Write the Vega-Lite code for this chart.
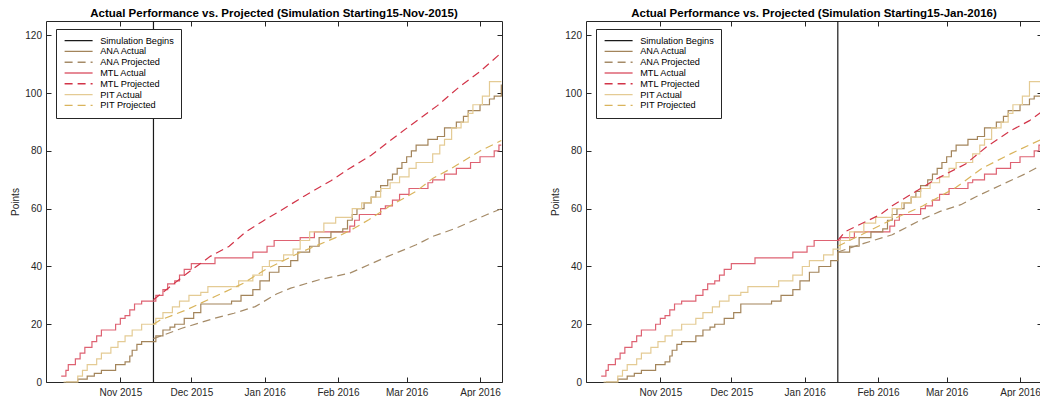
{
  "$schema": "https://vega.github.io/schema/vega-lite/v6.json",
  "background": "white",
  "padding": {"left": 10, "top": 7, "right": 0, "bottom": 0},
  "config": {
    "view": {"stroke": "#262626", "strokeWidth": 1},
    "font": "Liberation Sans",
    "axis": {"grid": false, "domain": false, "tickColor": "#262626", "tickSize": -5, "labelColor": "#262626", "labelFont": "Liberation Sans", "labelFontSize": 10, "titleFont": "Liberation Sans", "titleFontSize": 10, "titleFontWeight": "normal", "titleColor": "#262626"},
    "title": {"font": "Liberation Sans", "fontSize": 11.5, "fontWeight": "bold", "color": "#000000", "offset": 1.4, "anchor": "middle"}
  },
  "datasets": {
    "sim": [
      {"panel": "L", "series": "Simulation Begins", "date": "2015-11-15"},
      {"panel": "R", "series": "Simulation Begins", "date": "2016-01-15"}
    ],
    "actual": [
      {"series": "MTL Actual", "date": "2015-10-07", "value": 2},
      {"series": "MTL Actual", "date": "2015-10-09", "value": 4},
      {"series": "MTL Actual", "date": "2015-10-10", "value": 6},
      {"series": "MTL Actual", "date": "2015-10-13", "value": 8},
      {"series": "MTL Actual", "date": "2015-10-15", "value": 10},
      {"series": "MTL Actual", "date": "2015-10-17", "value": 12},
      {"series": "MTL Actual", "date": "2015-10-20", "value": 14},
      {"series": "MTL Actual", "date": "2015-10-22", "value": 16},
      {"series": "MTL Actual", "date": "2015-10-24", "value": 18},
      {"series": "MTL Actual", "date": "2015-10-30", "value": 20},
      {"series": "MTL Actual", "date": "2015-11-01", "value": 22},
      {"series": "MTL Actual", "date": "2015-11-03", "value": 23},
      {"series": "MTL Actual", "date": "2015-11-05", "value": 25},
      {"series": "MTL Actual", "date": "2015-11-07", "value": 27},
      {"series": "MTL Actual", "date": "2015-11-10", "value": 28},
      {"series": "MTL Actual", "date": "2015-11-16", "value": 30},
      {"series": "MTL Actual", "date": "2015-11-19", "value": 32},
      {"series": "MTL Actual", "date": "2015-11-21", "value": 34},
      {"series": "MTL Actual", "date": "2015-11-24", "value": 35},
      {"series": "MTL Actual", "date": "2015-11-26", "value": 37},
      {"series": "MTL Actual", "date": "2015-11-28", "value": 39},
      {"series": "MTL Actual", "date": "2015-12-01", "value": 41},
      {"series": "MTL Actual", "date": "2015-12-11", "value": 43},
      {"series": "MTL Actual", "date": "2015-12-27", "value": 45},
      {"series": "MTL Actual", "date": "2016-01-02", "value": 47},
      {"series": "MTL Actual", "date": "2016-01-05", "value": 49},
      {"series": "MTL Actual", "date": "2016-01-16", "value": 50},
      {"series": "MTL Actual", "date": "2016-01-22", "value": 52},
      {"series": "MTL Actual", "date": "2016-02-06", "value": 54},
      {"series": "MTL Actual", "date": "2016-02-08", "value": 56},
      {"series": "MTL Actual", "date": "2016-02-10", "value": 58},
      {"series": "MTL Actual", "date": "2016-02-19", "value": 60},
      {"series": "MTL Actual", "date": "2016-02-21", "value": 61},
      {"series": "MTL Actual", "date": "2016-02-24", "value": 63},
      {"series": "MTL Actual", "date": "2016-02-27", "value": 65},
      {"series": "MTL Actual", "date": "2016-03-02", "value": 67},
      {"series": "MTL Actual", "date": "2016-03-10", "value": 69},
      {"series": "MTL Actual", "date": "2016-03-12", "value": 70},
      {"series": "MTL Actual", "date": "2016-03-17", "value": 72},
      {"series": "MTL Actual", "date": "2016-03-22", "value": 74},
      {"series": "MTL Actual", "date": "2016-03-28", "value": 76},
      {"series": "MTL Actual", "date": "2016-04-01", "value": 78},
      {"series": "MTL Actual", "date": "2016-04-07", "value": 80},
      {"series": "MTL Actual", "date": "2016-04-09", "value": 82},
      {"series": "MTL Actual", "date": "2016-04-10", "value": 82},
      {"series": "ANA Actual", "date": "2015-10-09", "value": 0},
      {"series": "ANA Actual", "date": "2015-10-14", "value": 1},
      {"series": "ANA Actual", "date": "2015-10-18", "value": 2},
      {"series": "ANA Actual", "date": "2015-10-21", "value": 3},
      {"series": "ANA Actual", "date": "2015-10-24", "value": 4},
      {"series": "ANA Actual", "date": "2015-10-30", "value": 6},
      {"series": "ANA Actual", "date": "2015-11-03", "value": 7},
      {"series": "ANA Actual", "date": "2015-11-05", "value": 9},
      {"series": "ANA Actual", "date": "2015-11-06", "value": 11},
      {"series": "ANA Actual", "date": "2015-11-08", "value": 13},
      {"series": "ANA Actual", "date": "2015-11-10", "value": 14},
      {"series": "ANA Actual", "date": "2015-11-16", "value": 16},
      {"series": "ANA Actual", "date": "2015-11-19", "value": 18},
      {"series": "ANA Actual", "date": "2015-11-22", "value": 19},
      {"series": "ANA Actual", "date": "2015-11-24", "value": 20},
      {"series": "ANA Actual", "date": "2015-11-28", "value": 22},
      {"series": "ANA Actual", "date": "2015-12-02", "value": 24},
      {"series": "ANA Actual", "date": "2015-12-05", "value": 27},
      {"series": "ANA Actual", "date": "2015-12-18", "value": 28},
      {"series": "ANA Actual", "date": "2015-12-22", "value": 30},
      {"series": "ANA Actual", "date": "2015-12-27", "value": 32},
      {"series": "ANA Actual", "date": "2015-12-30", "value": 35},
      {"series": "ANA Actual", "date": "2016-01-03", "value": 38},
      {"series": "ANA Actual", "date": "2016-01-07", "value": 40},
      {"series": "ANA Actual", "date": "2016-01-12", "value": 42},
      {"series": "ANA Actual", "date": "2016-01-15", "value": 45},
      {"series": "ANA Actual", "date": "2016-01-20", "value": 47},
      {"series": "ANA Actual", "date": "2016-01-24", "value": 50},
      {"series": "ANA Actual", "date": "2016-01-29", "value": 52},
      {"series": "ANA Actual", "date": "2016-02-03", "value": 53},
      {"series": "ANA Actual", "date": "2016-02-05", "value": 56},
      {"series": "ANA Actual", "date": "2016-02-07", "value": 58},
      {"series": "ANA Actual", "date": "2016-02-09", "value": 60},
      {"series": "ANA Actual", "date": "2016-02-12", "value": 62},
      {"series": "ANA Actual", "date": "2016-02-15", "value": 64},
      {"series": "ANA Actual", "date": "2016-02-17", "value": 66},
      {"series": "ANA Actual", "date": "2016-02-19", "value": 68},
      {"series": "ANA Actual", "date": "2016-02-22", "value": 70},
      {"series": "ANA Actual", "date": "2016-02-24", "value": 72},
      {"series": "ANA Actual", "date": "2016-02-26", "value": 74},
      {"series": "ANA Actual", "date": "2016-02-28", "value": 76},
      {"series": "ANA Actual", "date": "2016-03-01", "value": 78},
      {"series": "ANA Actual", "date": "2016-03-03", "value": 80},
      {"series": "ANA Actual", "date": "2016-03-05", "value": 82},
      {"series": "ANA Actual", "date": "2016-03-10", "value": 84},
      {"series": "ANA Actual", "date": "2016-03-14", "value": 85},
      {"series": "ANA Actual", "date": "2016-03-17", "value": 88},
      {"series": "ANA Actual", "date": "2016-03-22", "value": 90},
      {"series": "ANA Actual", "date": "2016-03-25", "value": 92},
      {"series": "ANA Actual", "date": "2016-03-27", "value": 94},
      {"series": "ANA Actual", "date": "2016-04-01", "value": 96},
      {"series": "ANA Actual", "date": "2016-04-05", "value": 98},
      {"series": "ANA Actual", "date": "2016-04-07", "value": 99},
      {"series": "ANA Actual", "date": "2016-04-10", "value": 103},
      {"series": "PIT Actual", "date": "2015-10-08", "value": 0},
      {"series": "PIT Actual", "date": "2015-10-14", "value": 2},
      {"series": "PIT Actual", "date": "2015-10-16", "value": 4},
      {"series": "PIT Actual", "date": "2015-10-18", "value": 6},
      {"series": "PIT Actual", "date": "2015-10-22", "value": 8},
      {"series": "PIT Actual", "date": "2015-10-24", "value": 10},
      {"series": "PIT Actual", "date": "2015-10-28", "value": 12},
      {"series": "PIT Actual", "date": "2015-10-31", "value": 14},
      {"series": "PIT Actual", "date": "2015-11-03", "value": 16},
      {"series": "PIT Actual", "date": "2015-11-06", "value": 18},
      {"series": "PIT Actual", "date": "2015-11-10", "value": 20},
      {"series": "PIT Actual", "date": "2015-11-16", "value": 22},
      {"series": "PIT Actual", "date": "2015-11-19", "value": 24},
      {"series": "PIT Actual", "date": "2015-11-23", "value": 26},
      {"series": "PIT Actual", "date": "2015-11-26", "value": 28},
      {"series": "PIT Actual", "date": "2015-11-30", "value": 30},
      {"series": "PIT Actual", "date": "2015-12-05", "value": 31},
      {"series": "PIT Actual", "date": "2015-12-08", "value": 33},
      {"series": "PIT Actual", "date": "2015-12-21", "value": 35},
      {"series": "PIT Actual", "date": "2015-12-27", "value": 37},
      {"series": "PIT Actual", "date": "2015-12-31", "value": 40},
      {"series": "PIT Actual", "date": "2016-01-03", "value": 42},
      {"series": "PIT Actual", "date": "2016-01-09", "value": 44},
      {"series": "PIT Actual", "date": "2016-01-13", "value": 46},
      {"series": "PIT Actual", "date": "2016-01-16", "value": 49},
      {"series": "PIT Actual", "date": "2016-01-20", "value": 52},
      {"series": "PIT Actual", "date": "2016-01-26", "value": 55},
      {"series": "PIT Actual", "date": "2016-01-31", "value": 57},
      {"series": "PIT Actual", "date": "2016-02-07", "value": 60},
      {"series": "PIT Actual", "date": "2016-02-11", "value": 62},
      {"series": "PIT Actual", "date": "2016-02-15", "value": 64},
      {"series": "PIT Actual", "date": "2016-02-19", "value": 67},
      {"series": "PIT Actual", "date": "2016-02-23", "value": 69},
      {"series": "PIT Actual", "date": "2016-02-27", "value": 71},
      {"series": "PIT Actual", "date": "2016-03-02", "value": 74},
      {"series": "PIT Actual", "date": "2016-03-05", "value": 76},
      {"series": "PIT Actual", "date": "2016-03-12", "value": 79},
      {"series": "PIT Actual", "date": "2016-03-15", "value": 82},
      {"series": "PIT Actual", "date": "2016-03-17", "value": 84},
      {"series": "PIT Actual", "date": "2016-03-20", "value": 88},
      {"series": "PIT Actual", "date": "2016-03-24", "value": 90},
      {"series": "PIT Actual", "date": "2016-03-27", "value": 93},
      {"series": "PIT Actual", "date": "2016-03-29", "value": 96},
      {"series": "PIT Actual", "date": "2016-04-02", "value": 99},
      {"series": "PIT Actual", "date": "2016-04-05", "value": 104},
      {"series": "PIT Actual", "date": "2016-04-10", "value": 104}
    ],
    "proj": [
      {"panel": "L", "series": "MTL Projected", "date": "2015-11-15", "value": 28.5},
      {"panel": "L", "series": "MTL Projected", "date": "2015-11-22", "value": 33},
      {"panel": "L", "series": "MTL Projected", "date": "2015-11-29", "value": 37.5},
      {"panel": "L", "series": "MTL Projected", "date": "2015-12-04", "value": 40.5},
      {"panel": "L", "series": "MTL Projected", "date": "2015-12-09", "value": 43.5},
      {"panel": "L", "series": "MTL Projected", "date": "2015-12-17", "value": 47},
      {"panel": "L", "series": "MTL Projected", "date": "2015-12-24", "value": 52},
      {"panel": "L", "series": "MTL Projected", "date": "2015-12-31", "value": 55.6},
      {"panel": "L", "series": "MTL Projected", "date": "2016-01-07", "value": 59},
      {"panel": "L", "series": "MTL Projected", "date": "2016-01-18", "value": 64.5},
      {"panel": "L", "series": "MTL Projected", "date": "2016-01-29", "value": 69.7},
      {"panel": "L", "series": "MTL Projected", "date": "2016-02-06", "value": 74},
      {"panel": "L", "series": "MTL Projected", "date": "2016-02-15", "value": 78.5},
      {"panel": "L", "series": "MTL Projected", "date": "2016-02-23", "value": 83.6},
      {"panel": "L", "series": "MTL Projected", "date": "2016-03-02", "value": 88.5},
      {"panel": "L", "series": "MTL Projected", "date": "2016-03-14", "value": 95.7},
      {"panel": "L", "series": "MTL Projected", "date": "2016-03-23", "value": 102},
      {"panel": "L", "series": "MTL Projected", "date": "2016-04-01", "value": 107.5},
      {"panel": "L", "series": "MTL Projected", "date": "2016-04-10", "value": 114},
      {"panel": "L", "series": "PIT Projected", "date": "2015-11-15", "value": 20},
      {"panel": "L", "series": "PIT Projected", "date": "2015-11-18", "value": 21.5},
      {"panel": "L", "series": "PIT Projected", "date": "2015-11-29", "value": 25},
      {"panel": "L", "series": "PIT Projected", "date": "2015-12-11", "value": 29.6},
      {"panel": "L", "series": "PIT Projected", "date": "2015-12-23", "value": 34.2},
      {"panel": "L", "series": "PIT Projected", "date": "2016-01-01", "value": 38.8},
      {"panel": "L", "series": "PIT Projected", "date": "2016-01-15", "value": 44.5},
      {"panel": "L", "series": "PIT Projected", "date": "2016-01-31", "value": 50},
      {"panel": "L", "series": "PIT Projected", "date": "2016-02-08", "value": 53.3},
      {"panel": "L", "series": "PIT Projected", "date": "2016-02-14", "value": 56.2},
      {"panel": "L", "series": "PIT Projected", "date": "2016-02-23", "value": 61},
      {"panel": "L", "series": "PIT Projected", "date": "2016-03-05", "value": 66},
      {"panel": "L", "series": "PIT Projected", "date": "2016-03-12", "value": 70.5},
      {"panel": "L", "series": "PIT Projected", "date": "2016-03-20", "value": 74},
      {"panel": "L", "series": "PIT Projected", "date": "2016-04-01", "value": 80},
      {"panel": "L", "series": "PIT Projected", "date": "2016-04-10", "value": 83.6},
      {"panel": "L", "series": "ANA Projected", "date": "2015-11-15", "value": 15},
      {"panel": "L", "series": "ANA Projected", "date": "2015-11-27", "value": 18.6},
      {"panel": "L", "series": "ANA Projected", "date": "2015-12-11", "value": 22.1},
      {"panel": "L", "series": "ANA Projected", "date": "2015-12-19", "value": 23.8},
      {"panel": "L", "series": "ANA Projected", "date": "2015-12-28", "value": 26.1},
      {"panel": "L", "series": "ANA Projected", "date": "2016-01-06", "value": 30.5},
      {"panel": "L", "series": "ANA Projected", "date": "2016-01-12", "value": 32.5},
      {"panel": "L", "series": "ANA Projected", "date": "2016-01-24", "value": 35.4},
      {"panel": "L", "series": "ANA Projected", "date": "2016-02-06", "value": 37.7},
      {"panel": "L", "series": "ANA Projected", "date": "2016-02-14", "value": 40.6},
      {"panel": "L", "series": "ANA Projected", "date": "2016-02-22", "value": 43.5},
      {"panel": "L", "series": "ANA Projected", "date": "2016-03-05", "value": 47.5},
      {"panel": "L", "series": "ANA Projected", "date": "2016-03-12", "value": 50.4},
      {"panel": "L", "series": "ANA Projected", "date": "2016-03-22", "value": 53.3},
      {"panel": "L", "series": "ANA Projected", "date": "2016-04-04", "value": 58},
      {"panel": "L", "series": "ANA Projected", "date": "2016-04-10", "value": 60},
      {"panel": "R", "series": "MTL Projected", "date": "2016-01-15", "value": 49},
      {"panel": "R", "series": "MTL Projected", "date": "2016-01-18", "value": 52},
      {"panel": "R", "series": "MTL Projected", "date": "2016-01-27", "value": 55.6},
      {"panel": "R", "series": "MTL Projected", "date": "2016-02-02", "value": 58},
      {"panel": "R", "series": "MTL Projected", "date": "2016-02-07", "value": 61},
      {"panel": "R", "series": "MTL Projected", "date": "2016-02-25", "value": 70},
      {"panel": "R", "series": "MTL Projected", "date": "2016-03-09", "value": 75.5},
      {"panel": "R", "series": "MTL Projected", "date": "2016-03-18", "value": 81.5},
      {"panel": "R", "series": "MTL Projected", "date": "2016-03-28", "value": 87},
      {"panel": "R", "series": "MTL Projected", "date": "2016-04-05", "value": 90.5},
      {"panel": "R", "series": "MTL Projected", "date": "2016-04-10", "value": 93.5},
      {"panel": "R", "series": "PIT Projected", "date": "2016-01-15", "value": 47},
      {"panel": "R", "series": "PIT Projected", "date": "2016-01-25", "value": 51},
      {"panel": "R", "series": "PIT Projected", "date": "2016-02-05", "value": 55.5},
      {"panel": "R", "series": "PIT Projected", "date": "2016-02-20", "value": 61},
      {"panel": "R", "series": "PIT Projected", "date": "2016-03-05", "value": 67.4},
      {"panel": "R", "series": "PIT Projected", "date": "2016-03-16", "value": 74},
      {"panel": "R", "series": "PIT Projected", "date": "2016-03-28", "value": 79},
      {"panel": "R", "series": "PIT Projected", "date": "2016-04-10", "value": 84},
      {"panel": "R", "series": "ANA Projected", "date": "2016-01-15", "value": 45},
      {"panel": "R", "series": "ANA Projected", "date": "2016-01-26", "value": 48},
      {"panel": "R", "series": "ANA Projected", "date": "2016-02-07", "value": 51},
      {"panel": "R", "series": "ANA Projected", "date": "2016-02-20", "value": 56.5},
      {"panel": "R", "series": "ANA Projected", "date": "2016-02-27", "value": 59},
      {"panel": "R", "series": "ANA Projected", "date": "2016-03-07", "value": 61.4},
      {"panel": "R", "series": "ANA Projected", "date": "2016-03-13", "value": 64},
      {"panel": "R", "series": "ANA Projected", "date": "2016-03-25", "value": 68.6},
      {"panel": "R", "series": "ANA Projected", "date": "2016-04-03", "value": 72},
      {"panel": "R", "series": "ANA Projected", "date": "2016-04-10", "value": 75}
    ]
  },
  "bounds": "flush",
  "spacing": 84,
  "resolve": {"scale": {"color": "independent", "strokeDash": "independent", "x": "independent", "y": "independent"}, "legend": {"color": "independent", "strokeDash": "independent"}},
  "hconcat": [
    {
      "width": 456,
      "height": 361,
      "title": {"text": "Actual Performance vs. Projected (Simulation Starting15-Nov-2015)"},
      "layer": [
        {
          "data": {"name": "sim"},
          "transform": [{"filter": "datum.panel === 'L'"}],
          "mark": {"type": "rule", "strokeWidth": 1.2},
          "encoding": {
            "x": {"field": "date", "type": "temporal", "scale": {"type": "utc", "domain": [{"year": 2015, "month": 9, "date": 30, "hours": 14, "utc": true}, {"year": 2016, "month": 4, "date": 10, "hours": 7, "utc": true}]}, "axis": null},
            "color": {"field": "series", "type": "nominal", "scale": {"domain": ["Simulation Begins", "ANA Actual", "ANA Projected", "MTL Actual", "MTL Projected", "PIT Actual", "PIT Projected"], "range": ["#1a1a1a", "#a3845a", "#a58b68", "#de6272", "#d23448", "#e4cb94", "#d9b45c"]}, "legend": {"title": null, "orient": "none", "legendX": 10, "legendY": 8, "fillColor": "white", "strokeColor": "#262626", "padding": 7, "symbolType": "M-1,0H8.3333", "symbolSize": 36, "symbolStrokeWidth": 1.4, "labelFontSize": 9.2, "labelFont": "Liberation Sans", "labelColor": "#000000", "labelOffset": 28, "rowPadding": 0.8}},
            "strokeDash": {"field": "series", "type": "nominal", "scale": {"domain": ["Simulation Begins", "ANA Actual", "ANA Projected", "MTL Actual", "MTL Projected", "PIT Actual", "PIT Projected"], "range": [[1, 0], [1, 0], [8, 5], [1, 0], [8, 5], [1, 0], [8, 5]]}, "legend": {"title": null, "orient": "none", "legendX": 10, "legendY": 8, "fillColor": "white", "strokeColor": "#262626", "padding": 7, "symbolType": "M-1,0H8.3333", "symbolSize": 36, "symbolStrokeWidth": 1.4, "labelFontSize": 9.2, "labelFont": "Liberation Sans", "labelColor": "#000000", "labelOffset": 28, "rowPadding": 0.8}}
          }
        },
        {
          "data": {"name": "actual"},
          "mark": {"type": "line", "interpolate": "step-after", "strokeWidth": 1.2},
          "encoding": {
            "x": {"field": "date", "type": "temporal", "scale": {"type": "utc", "domain": [{"year": 2015, "month": 9, "date": 30, "hours": 14, "utc": true}, {"year": 2016, "month": 4, "date": 10, "hours": 7, "utc": true}]}, "axis": {"title": null, "format": "%b %Y", "values": [{"year": 2015, "month": 11, "date": 1, "utc": true}, {"year": 2015, "month": 12, "date": 1, "utc": true}, {"year": 2016, "month": 1, "date": 1, "utc": true}, {"year": 2016, "month": 2, "date": 1, "utc": true}, {"year": 2016, "month": 3, "date": 1, "utc": true}, {"year": 2016, "month": 4, "date": 1, "utc": true}], "labelFlush": false, "labelOverlap": false, "labelPadding": 10}},
            "y": {"field": "value", "type": "quantitative", "scale": {"domain": [0, 125], "nice": false}, "axis": {"title": "Points", "values": [0, 20, 40, 60, 80, 100, 120], "labelPadding": 9.5, "titlePadding": 4}},
            "color": {"field": "series", "type": "nominal", "scale": {"domain": ["Simulation Begins", "ANA Actual", "ANA Projected", "MTL Actual", "MTL Projected", "PIT Actual", "PIT Projected"], "range": ["#1a1a1a", "#a3845a", "#a58b68", "#de6272", "#d23448", "#e4cb94", "#d9b45c"]}},
            "strokeDash": {"field": "series", "type": "nominal", "scale": {"domain": ["Simulation Begins", "ANA Actual", "ANA Projected", "MTL Actual", "MTL Projected", "PIT Actual", "PIT Projected"], "range": [[1, 0], [1, 0], [8, 5], [1, 0], [8, 5], [1, 0], [8, 5]]}}
          }
        },
        {
          "data": {"name": "proj"},
          "transform": [{"filter": "datum.panel === 'L'"}],
          "mark": {"type": "line", "strokeWidth": 1.2},
          "encoding": {
            "x": {"field": "date", "type": "temporal", "scale": {"type": "utc", "domain": [{"year": 2015, "month": 9, "date": 30, "hours": 14, "utc": true}, {"year": 2016, "month": 4, "date": 10, "hours": 7, "utc": true}]}, "axis": {"orient": "top", "title": null, "labels": false, "values": [{"year": 2015, "month": 11, "date": 1, "utc": true}, {"year": 2015, "month": 12, "date": 1, "utc": true}, {"year": 2016, "month": 1, "date": 1, "utc": true}, {"year": 2016, "month": 2, "date": 1, "utc": true}, {"year": 2016, "month": 3, "date": 1, "utc": true}, {"year": 2016, "month": 4, "date": 1, "utc": true}]}},
            "y": {"field": "value", "type": "quantitative", "scale": {"domain": [0, 125], "nice": false}, "axis": {"orient": "right", "title": null, "labels": false, "values": [0, 20, 40, 60, 80, 100, 120]}},
            "color": {"field": "series", "type": "nominal", "scale": {"domain": ["Simulation Begins", "ANA Actual", "ANA Projected", "MTL Actual", "MTL Projected", "PIT Actual", "PIT Projected"], "range": ["#1a1a1a", "#a3845a", "#a58b68", "#de6272", "#d23448", "#e4cb94", "#d9b45c"]}},
            "strokeDash": {"field": "series", "type": "nominal", "scale": {"domain": ["Simulation Begins", "ANA Actual", "ANA Projected", "MTL Actual", "MTL Projected", "PIT Actual", "PIT Projected"], "range": [[1, 0], [1, 0], [8, 5], [1, 0], [8, 5], [1, 0], [8, 5]]}}
          }
        }
      ],
      "resolve": {"axis": {"x": "independent", "y": "independent"}}
    },
    {
      "width": 456,
      "height": 361,
      "title": {"text": "Actual Performance vs. Projected (Simulation Starting15-Jan-2016)"},
      "layer": [
        {
          "data": {"name": "sim"},
          "transform": [{"filter": "datum.panel === 'R'"}],
          "mark": {"type": "rule", "strokeWidth": 1.2},
          "encoding": {
            "x": {"field": "date", "type": "temporal", "scale": {"type": "utc", "domain": [{"year": 2015, "month": 9, "date": 30, "hours": 14, "utc": true}, {"year": 2016, "month": 4, "date": 10, "hours": 7, "utc": true}]}, "axis": null},
            "color": {"field": "series", "type": "nominal", "scale": {"domain": ["Simulation Begins", "ANA Actual", "ANA Projected", "MTL Actual", "MTL Projected", "PIT Actual", "PIT Projected"], "range": ["#1a1a1a", "#a3845a", "#a58b68", "#de6272", "#d23448", "#e4cb94", "#d9b45c"]}, "legend": {"title": null, "orient": "none", "legendX": 10, "legendY": 8, "fillColor": "white", "strokeColor": "#262626", "padding": 7, "symbolType": "M-1,0H8.3333", "symbolSize": 36, "symbolStrokeWidth": 1.4, "labelFontSize": 9.2, "labelFont": "Liberation Sans", "labelColor": "#000000", "labelOffset": 28, "rowPadding": 0.8}},
            "strokeDash": {"field": "series", "type": "nominal", "scale": {"domain": ["Simulation Begins", "ANA Actual", "ANA Projected", "MTL Actual", "MTL Projected", "PIT Actual", "PIT Projected"], "range": [[1, 0], [1, 0], [8, 5], [1, 0], [8, 5], [1, 0], [8, 5]]}, "legend": {"title": null, "orient": "none", "legendX": 10, "legendY": 8, "fillColor": "white", "strokeColor": "#262626", "padding": 7, "symbolType": "M-1,0H8.3333", "symbolSize": 36, "symbolStrokeWidth": 1.4, "labelFontSize": 9.2, "labelFont": "Liberation Sans", "labelColor": "#000000", "labelOffset": 28, "rowPadding": 0.8}}
          }
        },
        {
          "data": {"name": "actual"},
          "mark": {"type": "line", "interpolate": "step-after", "strokeWidth": 1.2},
          "encoding": {
            "x": {"field": "date", "type": "temporal", "scale": {"type": "utc", "domain": [{"year": 2015, "month": 9, "date": 30, "hours": 14, "utc": true}, {"year": 2016, "month": 4, "date": 10, "hours": 7, "utc": true}]}, "axis": {"title": null, "format": "%b %Y", "values": [{"year": 2015, "month": 11, "date": 1, "utc": true}, {"year": 2015, "month": 12, "date": 1, "utc": true}, {"year": 2016, "month": 1, "date": 1, "utc": true}, {"year": 2016, "month": 2, "date": 1, "utc": true}, {"year": 2016, "month": 3, "date": 1, "utc": true}, {"year": 2016, "month": 4, "date": 1, "utc": true}], "labelFlush": false, "labelOverlap": false, "labelPadding": 10}},
            "y": {"field": "value", "type": "quantitative", "scale": {"domain": [0, 125], "nice": false}, "axis": {"title": "Points", "values": [0, 20, 40, 60, 80, 100, 120], "labelPadding": 9.5, "titlePadding": 4}},
            "color": {"field": "series", "type": "nominal", "scale": {"domain": ["Simulation Begins", "ANA Actual", "ANA Projected", "MTL Actual", "MTL Projected", "PIT Actual", "PIT Projected"], "range": ["#1a1a1a", "#a3845a", "#a58b68", "#de6272", "#d23448", "#e4cb94", "#d9b45c"]}},
            "strokeDash": {"field": "series", "type": "nominal", "scale": {"domain": ["Simulation Begins", "ANA Actual", "ANA Projected", "MTL Actual", "MTL Projected", "PIT Actual", "PIT Projected"], "range": [[1, 0], [1, 0], [8, 5], [1, 0], [8, 5], [1, 0], [8, 5]]}}
          }
        },
        {
          "data": {"name": "proj"},
          "transform": [{"filter": "datum.panel === 'R'"}],
          "mark": {"type": "line", "strokeWidth": 1.2},
          "encoding": {
            "x": {"field": "date", "type": "temporal", "scale": {"type": "utc", "domain": [{"year": 2015, "month": 9, "date": 30, "hours": 14, "utc": true}, {"year": 2016, "month": 4, "date": 10, "hours": 7, "utc": true}]}, "axis": {"orient": "top", "title": null, "labels": false, "values": [{"year": 2015, "month": 11, "date": 1, "utc": true}, {"year": 2015, "month": 12, "date": 1, "utc": true}, {"year": 2016, "month": 1, "date": 1, "utc": true}, {"year": 2016, "month": 2, "date": 1, "utc": true}, {"year": 2016, "month": 3, "date": 1, "utc": true}, {"year": 2016, "month": 4, "date": 1, "utc": true}]}},
            "y": {"field": "value", "type": "quantitative", "scale": {"domain": [0, 125], "nice": false}, "axis": {"orient": "right", "title": null, "labels": false, "values": [0, 20, 40, 60, 80, 100, 120]}},
            "color": {"field": "series", "type": "nominal", "scale": {"domain": ["Simulation Begins", "ANA Actual", "ANA Projected", "MTL Actual", "MTL Projected", "PIT Actual", "PIT Projected"], "range": ["#1a1a1a", "#a3845a", "#a58b68", "#de6272", "#d23448", "#e4cb94", "#d9b45c"]}},
            "strokeDash": {"field": "series", "type": "nominal", "scale": {"domain": ["Simulation Begins", "ANA Actual", "ANA Projected", "MTL Actual", "MTL Projected", "PIT Actual", "PIT Projected"], "range": [[1, 0], [1, 0], [8, 5], [1, 0], [8, 5], [1, 0], [8, 5]]}}
          }
        }
      ],
      "resolve": {"axis": {"x": "independent", "y": "independent"}}
    }
  ]
}
